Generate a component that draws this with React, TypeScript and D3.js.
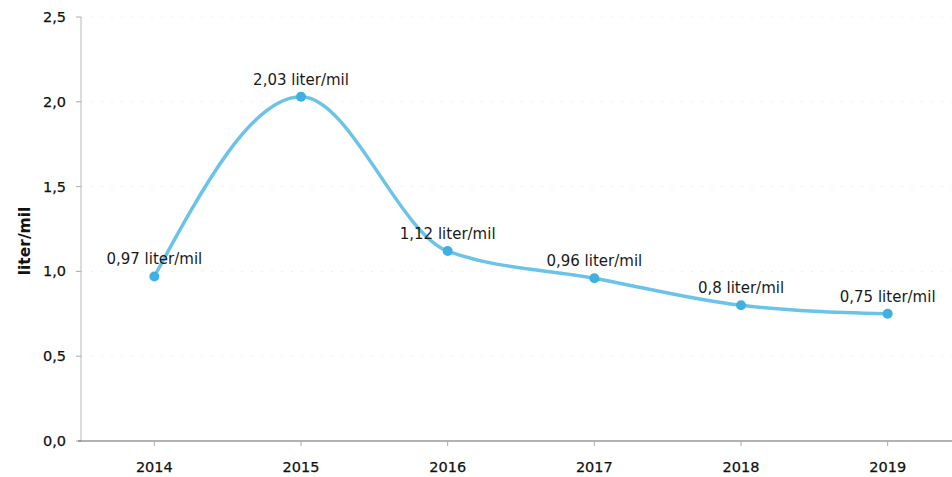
import React from "react";
import * as d3 from "d3";

const years = ["2014", "2015", "2016", "2017", "2018", "2019"];
const values = [0.97, 2.03, 1.12, 0.96, 0.8, 0.75];
const valueLabels = ["0,97 liter/mil", "2,03 liter/mil", "1,12 liter/mil", "0,96 liter/mil", "0,8 liter/mil", "0,75 liter/mil"];
const yTicks = [0, 0.5, 1.0, 1.5, 2.0, 2.5];
const yTickLabels = ["0,0", "0,5", "1,0", "1,5", "2,0", "2,5"];
const yTitle = "liter/mil";

const W = 952;
const H = 477;
const font = "'DejaVu Sans', Verdana, sans-serif";

export default function App() {
  const x = d3.scalePoint<string>().domain(years).range([81, 961]).padding(0.5);
  const y = d3.scaleLinear().domain([0, 2.5]).range([441, 17]);
  const line = d3
    .line<number>()
    .x((_, i) => x(years[i]) as number)
    .y((d) => y(d))
    .curve(d3.curveMonotoneX);

  return (
    <svg
      width={W}
      height={H}
      style={{ position: "absolute", left: 0, top: 0, background: "#fff" }}
      fontFamily={font}
    >
      {/* grid */}
      {yTicks.slice(1).map((t) => (
        <line key={"g" + t} x1={81} x2={952} y1={y(t)} y2={y(t)} stroke="#f0f0f0" strokeWidth={1} strokeDasharray="2,8" />
      ))}
      {/* y axis */}
      <line x1={81} x2={81} y1={y(2.5)} y2={y(0)} stroke="#b8b8b8" strokeWidth={1} />
      {yTicks.map((t, i) => (
        <g key={"y" + t}>
          <line x1={76} x2={81} y1={y(t)} y2={y(t)} stroke="#aaa" />
          <text x={66} y={y(t)} dy="0.35em" textAnchor="end" fontSize={14.5} fill="#111" stroke="#111" strokeWidth={0.25}>
            {yTickLabels[i]}
          </text>
        </g>
      ))}
      <text
        transform={`translate(30,${241}) rotate(-90)`}
        textAnchor="middle"
        fontSize={15.5}
        fontWeight="bold"
        fill="#111"
      >
        {yTitle}
      </text>
      {/* x axis */}
      <line x1={78} x2={952} y1={y(0)} y2={y(0)} stroke="#666" strokeWidth={1.2} />
      {years.map((yr) => (
        <g key={yr}>
          <line x1={x(yr)} x2={x(yr)} y1={y(0)} y2={y(0) + 5} stroke="#aaa" />
          <text x={x(yr)} y={472} textAnchor="middle" fontSize={14.5} fill="#111" stroke="#111" strokeWidth={0.25}>
            {yr}
          </text>
        </g>
      ))}
      {/* line */}
      <path d={line(values) || ""} fill="none" stroke="#6cc3e8" strokeWidth={3.5} />
      {values.map((v, i) => (
        <circle key={"c" + i} cx={x(years[i])} cy={y(v)} r={5} fill="#3fb0e0" />
      ))}
      {values.map((v, i) => (
        <text key={"l" + i} x={x(years[i])} y={y(v) - 12} textAnchor="middle" fontSize={15} fill="#1a1a1a">
          {valueLabels[i]}
        </text>
      ))}
    </svg>
  );
}
